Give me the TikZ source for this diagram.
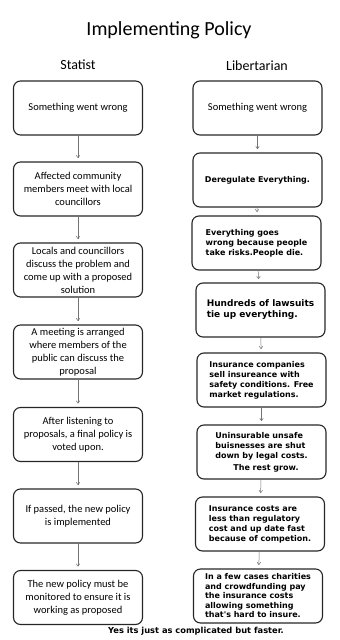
\documentclass[tikz,border=0pt]{standalone}
\usepackage{fontspec}
\setmainfont{Carlito}
\newfontfamily\verd{DejaVu Sans}
\usepackage{tikz}
\usetikzlibrary{positioning,arrows.meta}
\tikzset{
  >={To[length=3pt,width=4pt]},
  shorten >=4pt,
}

\begin{document}
\begin{tikzpicture}[
  lbox/.style={draw=black!85,line width=1.1pt,rounded corners=7pt,
    minimum width=129pt,minimum height=54pt,align=center,
    font=\fontsize{10.5}{13}\selectfont},
  rbox/.style={lbox,align=left,font=\verd\bfseries\fontsize{8}{10}\selectfont},
  arr/.style={->,draw=black!55,line width=0.5pt},
  every node/.style={inner sep=0pt,outer sep=0pt}
]
\useasboundingbox (0,0) rectangle (340pt,-640pt);

\node[font=\fontsize{20}{24}\selectfont] (title) at (169pt,-30pt) {Implementing Policy};
\node[font=\fontsize{14}{17}\selectfont] (stat) at (78pt,-65pt) {Statist};
\node[font=\fontsize{14}{17}\selectfont] (libr) at (257pt,-66pt) {Libertarian};

% statist column
\node[lbox] (s1) at (78pt,-108pt) {Something went wrong};
\node[lbox,below=27pt of s1] (s2) {Affected community\\members meet with local\\councillors};
\node[lbox,below=27pt of s2] (s3) {Locals and councillors\\discuss the problem and\\come up with a proposed\\solution};
\node[lbox,below=28pt of s3] (s4) {A meeting is arranged\\where members of the\\public can discuss the\\proposal};
\node[lbox,below=28.5pt of s4] (s5) {After listening to\\proposals, a final policy is\\voted upon.};
\node[lbox,below=27.5pt of s5] (s6) {If passed, the new policy\\is implemented};
\node[lbox,below=27.5pt of s6] (s7) {The new policy must be\\monitored to ensure it is\\working as proposed};

% libertarian column
\node[lbox] (l1) at (257.5pt,-108pt) {Something went wrong};
\node[rbox,align=center,below=18pt of l1] (l2) {Deregulate Everything.};
\node[rbox,below=9pt of l2,xshift=-1pt] (l3) {Everything goes\\wrong because people\\take risks.People die.};
\node[rbox,below=13pt of l3,xshift=4pt,font=\verd\bfseries\fontsize{9}{11}\selectfont] (l4) {Hundreds of lawsuits\\tie up everything.};
\node[rbox,below=16pt of l4,xshift=1pt] (l5) {Insurance companies\\sell insureance with\\safety conditions. Free\\market regulations.};
\node[rbox,below=18pt of l5] (l6) {Uninsurable unsafe\\buisnesses are shut\\down by legal costs.\\[2pt]\hspace*{18pt}The rest grow.};
\node[rbox,below=18pt of l6,xshift=-1.5pt] (l7) {Insurance costs are\\less than regulatory\\cost and up date fast\\because of competion.};
\node[rbox,below=18pt of l7,xshift=-2pt,font=\verd\bfseries\fontsize{8}{9.5}\selectfont] (l8) {In a few cases charities\\and crowdfunding pay\\the insurance costs\\allowing something\\that's hard to insure.};

\node[font=\verd\bfseries\fontsize{8.3}{10}\selectfont] (foot) at (196pt,-631pt) {Yes its just as complicated but faster.};

\foreach \a/\b in {s1/s2,s2/s3,s3/s4,s4/s5,s5/s6,s6/s7,
                   l1/l2,l2/l3,l3/l4,l4/l5,l5/l6,l6/l7,l7/l8}
  \draw[arr] (\a) -- (\b);

\end{tikzpicture}
\end{document}
